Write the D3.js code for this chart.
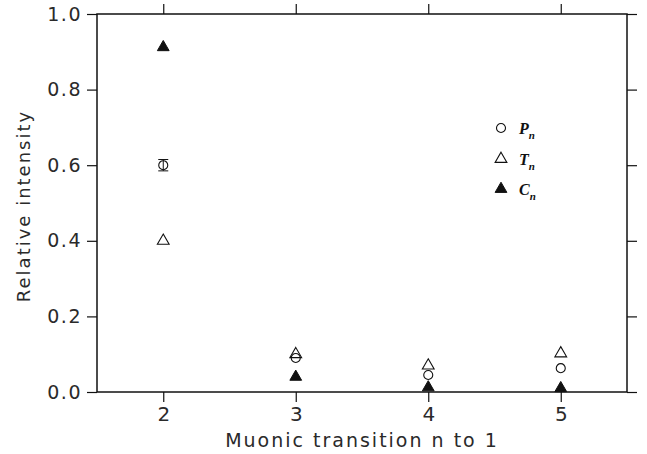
<!DOCTYPE html>
<html><head><meta charset="utf-8">
<script src="https://cdn.jsdelivr.net/npm/d3@7"></script>
<style>body{margin:0;background:#fff}svg{display:block}</style>
</head><body>
<svg id="c" width="647" height="454"></svg>
<script>
const transitions = [2, 3, 4, 5];
const P = [0.600, 0.090, 0.045, 0.063];
const Perr = [0.015, 0, 0, 0];
const T = [0.400, 0.100, 0.070, 0.102];
const C = [0.912, 0.040, 0.012, 0.010];
const yTicks = [0, 0.2, 0.4, 0.6, 0.8, 1.0];
const xTicks = [2, 3, 4, 5];
const legendItems = [
  {sym: "circle", label: "P"},
  {sym: "tri", label: "T"},
  {sym: "ftri", label: "C"}
];

const svg = d3.select("#c");
const L = 97, R = 627, Tp = 14, B = 392;
const x = d3.scaleLinear().domain([1.5, 5.5]).range([L, R]);
const y = d3.scaleLinear().domain([0, 1]).range([B, Tp]);
const font = "'DejaVu Sans', sans-serif";
const ink = "#111";
const txt = "#2a2a2a";

function axisStyle(g){
  g.select(".domain").remove();
  g.selectAll("line").attr("stroke", ink).attr("stroke-width", 1.2);
}
// bottom
svg.append("g").attr("transform", `translate(0,${B})`)
  .call(d3.axisBottom(x).tickValues(xTicks).tickSize(10).tickPadding(5).tickFormat(d3.format("d")))
  .call(axisStyle)
  .call(g => g.selectAll("text").attr("font-family", font).attr("font-size", 20).attr("fill", txt));
// top
svg.append("g").attr("transform", `translate(0,${Tp})`)
  .call(d3.axisTop(x).tickValues(xTicks).tickSize(10).tickFormat(""))
  .call(axisStyle);
// left
svg.append("g").attr("transform", `translate(${L},0)`)
  .call(d3.axisLeft(y).tickValues(yTicks).tickSize(10).tickPadding(5).tickFormat(d3.format(".1f")))
  .call(axisStyle)
  .call(g => g.selectAll("text").attr("font-family", font).attr("font-size", 19)
    .attr("letter-spacing", 1.5).attr("fill", txt));
// right
svg.append("g").attr("transform", `translate(${R},0)`)
  .call(d3.axisRight(y).tickValues(yTicks).tickSize(10).tickFormat(""))
  .call(axisStyle);
// frame
svg.append("rect").attr("x", L).attr("y", Tp).attr("width", R - L).attr("height", B - Tp)
  .attr("fill", "none").attr("stroke", ink).attr("stroke-width", 1.5);

// axis titles
svg.append("text").attr("x", (L + R) / 2).attr("y", 447).attr("text-anchor", "middle")
  .attr("font-family", font).attr("font-size", 19).attr("letter-spacing", 2).attr("fill", txt)
  .text("Muonic transition n to 1");
svg.append("text").attr("transform", `translate(30,206) rotate(-90)`)
  .attr("text-anchor", "middle").attr("font-family", font).attr("font-size", 18)
  .attr("letter-spacing", 2).attr("fill", txt)
  .text("Relative intensity");

const circ = d3.symbol().type(d3.symbolCircle).size(64);
const tri = d3.symbol().type(d3.symbolTriangle).size(60);
function drawSym(g, type, cx, cy){
  if (type === "circle") g.append("path").attr("d", circ()).attr("transform", `translate(${cx},${cy})`).attr("fill", "none").attr("stroke", ink).attr("stroke-width", 1.1);
  else if (type === "tri") g.append("path").attr("d", tri()).attr("transform", `translate(${cx},${cy})`).attr("fill", "none").attr("stroke", ink).attr("stroke-width", 1.1);
  else g.append("path").attr("d", tri()).attr("transform", `translate(${cx},${cy})`).attr("fill", ink).attr("stroke", ink).attr("stroke-width", 1);
}
const pts = svg.append("g");
transitions.forEach((n, i) => {
  const cx = x(n);
  if (Perr[i] > 0) {
    const y1 = y(P[i] + Perr[i]), y2 = y(P[i] - Perr[i]);
    pts.append("line").attr("x1", cx).attr("x2", cx).attr("y1", y1).attr("y2", y2).attr("stroke", ink);
    [y1, y2].forEach(yy => pts.append("line").attr("x1", cx - 5).attr("x2", cx + 5).attr("y1", yy).attr("y2", yy).attr("stroke", ink));
  }
  drawSym(pts, "circle", cx, y(P[i]));
  drawSym(pts, "tri", cx, y(T[i]));
  drawSym(pts, "ftri", cx, y(C[i]));
});

// legend
const lg = svg.append("g");
const ly = [128, 159, 189];
legendItems.forEach((it, i) => {
  drawSym(lg, it.sym, 501, ly[i]);
  const t = lg.append("text").attr("x", 519).attr("y", ly[i] + 6)
    .attr("font-family", "'Liberation Serif', serif").attr("font-style", "italic").attr("font-weight", "bold")
    .attr("font-size", 16).attr("fill", ink);
  t.append("tspan").text(it.label);
  t.append("tspan").attr("dy", 5).attr("font-size", 11).text("n");
});
</script>
</body></html>
